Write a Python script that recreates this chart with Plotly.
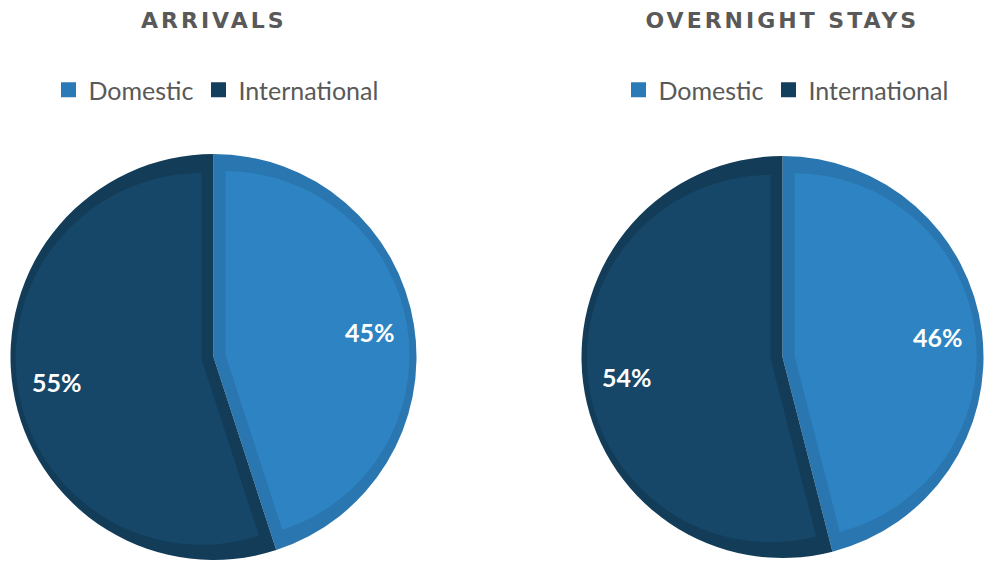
import math
import plotly.graph_objects as go

# ---- data ----
labels = ["Domestic", "International"]
arrivals = [45, 55]
overnight = [46, 54]
titles = ["ARRIVALS", "OVERNIGHT STAYS"]

# ---- style ----
W, H = 991, 567
dom_inner, dom_band = "#2E84C2", "#2976B0"
int_inner, int_band = "#164768", "#123C58"
legend_cols = ["#2A7AB8", "#133F5E"]
clear = "rgba(0,0,0,0)"
band = 12
pies = [  # centre x, centre y, radius (pixels)
    dict(cx=213.5, cy=357, r=203, values=arrivals, legend="legend", title=titles[0], lx=216),
    dict(cx=782.5, cy=357, r=201, values=overnight, legend="legend2", title=titles[1], lx=786),
]


def dom(cx, cy, r):
    return dict(x=[(cx - r) / W, (cx + r) / W], y=[1 - (cy + r) / H, 1 - (cy - r) / H])


fig = go.Figure()
common = dict(labels=labels, sort=False, direction="clockwise", rotation=0,
              hoverinfo="skip", showlegend=False, textinfo="none")
for p in pies:
    vals = p["values"]
    tot = sum(vals)
    # outer (band colour) pie
    fig.add_trace(go.Pie(values=vals, marker=dict(colors=[dom_band, int_band]),
                         domain=dom(p["cx"], p["cy"], p["r"]), **common))
    # inset slices
    start = 0.0
    for i, v in enumerate(vals):
        ang = v / tot * 360.0
        half = math.radians(ang / 2)
        mid = math.radians(start + ang / 2)
        d = band / math.sin(half)
        px = p["cx"] + d * math.sin(mid)
        py = p["cy"] - d * math.cos(mid)
        rr = p["r"] - band - d * (1 + math.cos(half)) / 2
        cols = [clear, clear]
        cols[i] = [dom_inner, int_inner][i]
        fig.add_trace(go.Pie(values=vals, marker=dict(colors=cols),
                             domain=dom(px, py, rr), **common))
        # percentage label along the slice bisector
        lr = 0.78 * p["r"]
        fig.add_annotation(x=(p["cx"] + lr * math.sin(mid)) / W,
                           y=1 - (p["cy"] - lr * math.cos(mid)) / H,
                           xref="paper", yref="paper", showarrow=False,
                           text=f"{round(v / tot * 100)}%",
                           xanchor="center", yanchor="middle",
                           font=dict(family="Lato", size=25, color="white", weight="bold"))
        start += ang
    # legend entries
    for lab, col in zip(labels, legend_cols):
        fig.add_trace(go.Scatter(x=[None], y=[None], mode="markers", name=lab,
                                 marker=dict(symbol="square", size=15, color=col),
                                 legend=p["legend"], showlegend=True, hoverinfo="skip"))
    fig.add_annotation(x=p["cx"] / W, y=1 - 20 / H, xref="paper", yref="paper",
                       text=p["title"], showarrow=False, xanchor="center", yanchor="middle",
                       font=dict(family="DejaVu Sans", size=22, color="#595959", weight="bold"))

legend_style = dict(orientation="h", xanchor="center", yanchor="middle",
                    font=dict(family="Lato", size=25, color="#595959"),
                    bgcolor="rgba(0,0,0,0)", itemclick=False, itemdoubleclick=False,
                    itemwidth=30, tracegroupgap=0)
fig.update_layout(
    width=W, height=H, margin=dict(l=0, r=0, t=0, b=0),
    paper_bgcolor="white", plot_bgcolor="white",
    xaxis=dict(visible=False), yaxis=dict(visible=False),
    legend=dict(x=pies[0]["lx"] / W, y=1 - 90 / H, **legend_style),
    legend2=dict(x=pies[1]["lx"] / W, y=1 - 90 / H, **legend_style),
)

post = """
var gd = document.getElementById('{plot_id}');
function ls(){ gd.querySelectorAll('.annotation-text').forEach(function(t){
  if (/^[A-Z ]+$/.test(t.textContent)) { t.style.letterSpacing='3px'; } }); }
ls(); setTimeout(ls, 50);
if (gd.on) { gd.on('plotly_afterplot', ls); }
"""
fig.write_html("out.html", post_script=post)
